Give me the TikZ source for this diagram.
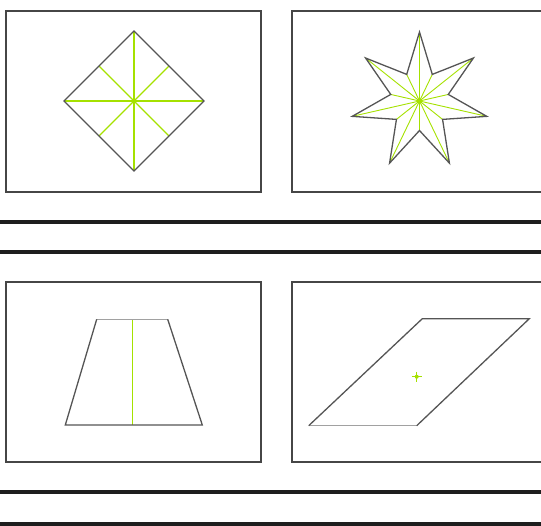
\documentclass[tikz,border=0pt]{standalone}
\usetikzlibrary{calc}
\definecolor{lime}{RGB}{165,225,0}
\definecolor{edge}{RGB}{85,85,85}
\definecolor{frame}{RGB}{70,70,70}
\definecolor{bar}{RGB}{30,30,30}
\tikzset{
  framebox/.style={draw=frame,line width=1.1pt},
  shapeline/.style={draw=edge,line width=1.3pt,line join=miter},
  lightedge/.style={draw=edge!55,line width=1.3pt},
  greenline/.style={draw=lime,line width=1.2pt},
  thickbar/.style={draw=bar,line width=4pt}
}
\begin{document}
\begin{tikzpicture}[x=1pt,y=-1pt]
\useasboundingbox (0,0) rectangle (541,525);
\clip (0,0) rectangle (541,525);
% frames
\draw[framebox] (6,11) rectangle (261,192);
\draw[framebox] (292,11) rectangle (547,192);
\draw[framebox] (6,282) rectangle (261,462);
\draw[framebox] (292,282) rectangle (547,462);
% bars
\coordinate (b1l) at (0,221.5); \coordinate (b1r) at (541,221.5);
\coordinate (b2l) at (0,251.5); \coordinate (b2r) at (541,251.5);
\coordinate (b3l) at (0,492.3); \coordinate (b3r) at (541,492.3);
\coordinate (b4l) at (0,523.5); \coordinate (b4r) at (541,523.5);
\draw[thickbar] (b1l) -- (b1r);
\draw[thickbar] (b2l) -- (b2r);
\draw[thickbar] (b3l) -- (b3r);
\draw[thickbar] (b4l) -- (b4r);
% diamond
\coordinate (dc) at (134,101);
\coordinate (dt) at (134,31);
\coordinate (db) at (134,171);
\coordinate (dl) at (64,101);
\coordinate (dr) at (204,101);
\draw[greenline] (dt) -- (db);
\draw[greenline] (dl) -- (dr);
\draw[greenline] ($(dt)!0.5!(dl)$) -- ($(db)!0.5!(dr)$);
\draw[greenline] ($(dt)!0.5!(dr)$) -- ($(db)!0.5!(dl)$);
\fill[lime] (dc) circle (2);
\draw[shapeline] (dt) -- (dr) -- (db) -- (dl) -- cycle;
% star
\coordinate (sc) at (419.5,101);
\foreach \i in {0,...,6} {
  \pgfmathsetmacro{\ao}{90-\i*360/7}
  \pgfmathsetmacro{\ai}{90-\i*360/7-180/7}
  \coordinate (so\i) at ($(sc)+(\ao:69 and -69)$);
  \coordinate (si\i) at ($(sc)+(\ai:29.5 and -29.5)$);
  \draw[greenline,line width=0.9pt] (sc) -- (so\i);
  \draw[greenline,line width=0.9pt] (sc) -- (si\i);
}
\fill[lime] (sc) circle (2.5);
\draw[shapeline] (so0) -- (si0) -- (so1) -- (si1) -- (so2) -- (si2) -- (so3) -- (si3) -- (so4) -- (si4) -- (so5) -- (si5) -- (so6) -- (si6) -- cycle;
% trapezoid
\coordinate (ttl) at (96.7,319.3);
\coordinate (ttr) at (167.7,319.3);
\coordinate (tbr) at (202.3,425);
\coordinate (tbl) at (65.3,425);
\coordinate (tmt) at (132.3,319.3);
\coordinate (tmb) at (132.3,425);
\draw[greenline,line width=1.4pt] (tmt) -- (tmb);
\draw[lightedge] (ttl) -- (ttr);
\draw[shapeline] (ttr) -- (tbr) -- (tbl) -- (ttl);
% parallelogram
\coordinate (ptl) at (422.3,318.7);
\coordinate (ptr) at (529.3,318.7);
\coordinate (pbr) at (416.7,425.7);
\coordinate (pbl) at (308.7,425.7);
\coordinate (pc) at (416.7,376.7);
\draw[lightedge] (pbl) -- (pbr);
\draw[shapeline] (pbr) -- (ptr) -- (ptl) -- (pbl);
\draw[greenline,line width=1.4pt] ($(pc)+(-5,0)$) -- ($(pc)+(5,0)$);
\draw[greenline,line width=1.4pt] ($(pc)+(0,-5)$) -- ($(pc)+(0,5)$);
\fill[lime] (pc) circle (2);
\end{tikzpicture}
\end{document}
